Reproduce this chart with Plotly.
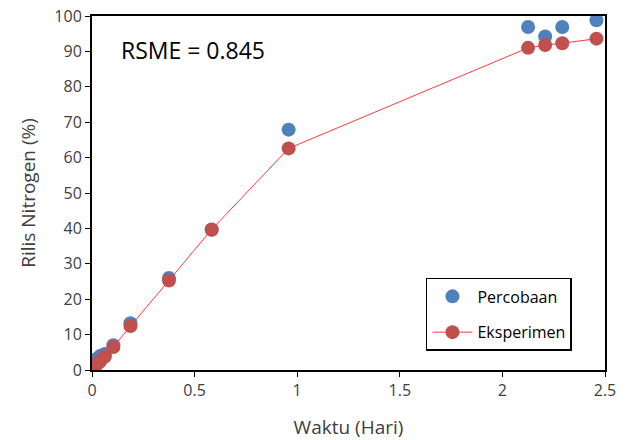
import plotly.graph_objects as go

waktu = [0, 0.0104, 0.0208, 0.0313, 0.0417, 0.0625, 0.1042, 0.1875, 0.375, 0.5833, 0.9583, 2.125, 2.2083, 2.2917, 2.4583]
percobaan = [1.5, 2.3, 3.0, 3.5, 4.0, 4.5, 7.0, 13.2, 26.0, 39.6, 67.9, 96.9, 94.2, 96.9, 98.8]
eksperimen = [0.0, 0.8, 1.5, 2.0, 2.6, 3.8, 6.5, 12.4, 25.3, 39.7, 62.6, 91.0, 91.8, 92.3, 93.6]

font = "Open Sans"
fig = go.Figure()
fig.add_trace(go.Scatter(x=waktu, y=percobaan, mode="markers", name="Percobaan",
                         legendgroup="a",
                         marker=dict(color="#4F81BD", size=14)))
fig.add_trace(go.Scatter(x=waktu, y=eksperimen, mode="lines+markers", name="Eksperimen",
                         legendgroup="b",
                         line=dict(color="#FF3B3B", width=1),
                         marker=dict(color="#C0504D", size=14)))
fig.add_annotation(x=0.053, y=0.905, xref="paper", yref="paper", text="RSME = 0.845",
                   showarrow=False, xanchor="left", yanchor="middle",
                   font=dict(size=23, color="#000000", family=font))
fig.update_layout(
    width=631, height=440,
    margin=dict(l=92, r=26, t=16, b=70, autoexpand=False),
    paper_bgcolor="white", plot_bgcolor="white",
    font=dict(family=font, size=15, color="#404040"),
    showlegend=True,
    legend=dict(x=0.651, y=0.26, xanchor="left", yanchor="top",
                bordercolor="#000000", borderwidth=1.5, bgcolor="white",
                font=dict(size=16, color="#000000"), itemwidth=40,
                tracegroupgap=12),
    xaxis=dict(range=[0, 2.5], dtick=0.5, showgrid=False, zeroline=False,
               showline=True, linecolor="black", linewidth=2, mirror=True,
               ticks="outside", ticklen=5, tickcolor="black",
               ticklabeloverflow="allow", automargin=False,
               tickfont=dict(size=16),
               title=dict(text="Waktu (Hari)", font=dict(size=19, color="#404040"), standoff=20)),
    yaxis=dict(range=[0, 100], dtick=10, showgrid=False, zeroline=False,
               showline=True, linecolor="black", linewidth=2, mirror=True,
               ticks="outside", ticklen=5, tickcolor="black",
               ticklabeloverflow="allow", automargin=False,
               tickfont=dict(size=16),
               title=dict(text="Rilis Nitrogen (%)", font=dict(size=19, color="#404040"), standoff=14)),
)
fig.write_html("out.html", config={"displayModeBar": False},
               post_script="document.body.style.margin='0';")
